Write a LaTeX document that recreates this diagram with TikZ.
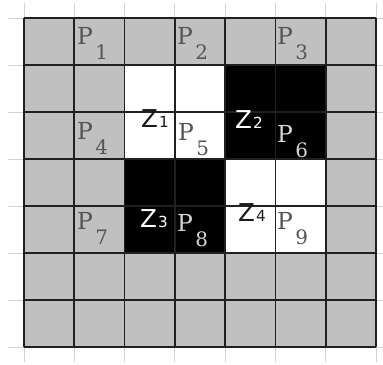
\documentclass[tikz,border=0pt]{standalone}
\usepackage{fontspec}
\newfontfamily\pserif{DejaVu Serif}
\newfontfamily\zsans{DejaVu Sans}
\definecolor{cellgray}{HTML}{C0C0C0}
\definecolor{tickgray}{HTML}{D2D2D2}
\definecolor{linedark}{HTML}{202020}
\definecolor{pgray}{HTML}{555555}
\definecolor{plight}{HTML}{D6D6D6}
\definecolor{zdark}{HTML}{1A1A1A}
\newcommand\psub[1]{P\hspace{2pt}\raisebox{-12pt}{\fontsize{17}{17}\selectfont #1}}
\newcommand\zsub[1]{Z\hspace{0.8pt}{\fontsize{13}{13}\selectfont #1}}

\tikzset{
	pixgrid/.style={
			x=0.3mm, y=-0.3mm,
			tick/.style={draw=tickgray, line width=0.8pt},
			gridline/.style={draw=linedark, line width=1.4pt},
			plabel/.style={anchor=base west, inner sep=0pt, font=\pserif\fontsize{20}{20}\selectfont},
			zlabel/.style={anchor=base west, inner sep=0pt, font=\zsans\fontsize{21}{21}\selectfont},
		}
}

\begin{document}
\begin{tikzpicture}[pixgrid]
		\useasboundingbox (0,0) rectangle (383,365);
		\foreach \i in {0,...,7} {
				\draw[tick] (24+50.3*\i,3) -- (24+50.3*\i,362);
				\draw[tick] (8,18+47*\i) -- (383,18+47*\i);
			}
		\fill[cellgray] (24,18) rectangle (376.1,347);
		\foreach \c/\r in {2/1,3/1,2/2,3/2,4/3,5/3,4/4,5/4}
		\fill[white] (24+50.3*\c,18+47*\r) rectangle ++(50.3,47);
		\foreach \c/\r in {4/1,5/1,4/2,5/2,2/3,3/3,2/4,3/4}
		\fill[black] (24+50.3*\c,18+47*\r) rectangle ++(50.3,47);
		\foreach \i in {0,...,7} {
				\draw[gridline] (24+50.3*\i,18) -- (24+50.3*\i,347);
				\draw[gridline] (24,18+47*\i) -- (376.1,18+47*\i);
			}
		\foreach \n/\px/\py/\col in {1/77/45/pgray, 2/177/45/pgray, 3/277/45/pgray,
				4/77/140/pgray, 5/178/141/pgray, 6/277/143/plight,
				7/77/230/pgray, 8/177/232/plight, 9/277/230/pgray}
		\node[plabel, text=\col] (p\n) at (\px,\py) {\psub{\n}};
		\foreach \n/\px/\py/\col in {1/141/128/zdark, 2/235/129/white, 3/140/228/white, 4/238/222/zdark}
		\node[zlabel, text=\col] (z\n) at (\px,\py) {\zsub{\n}};
	\end{tikzpicture}
\end{document}
